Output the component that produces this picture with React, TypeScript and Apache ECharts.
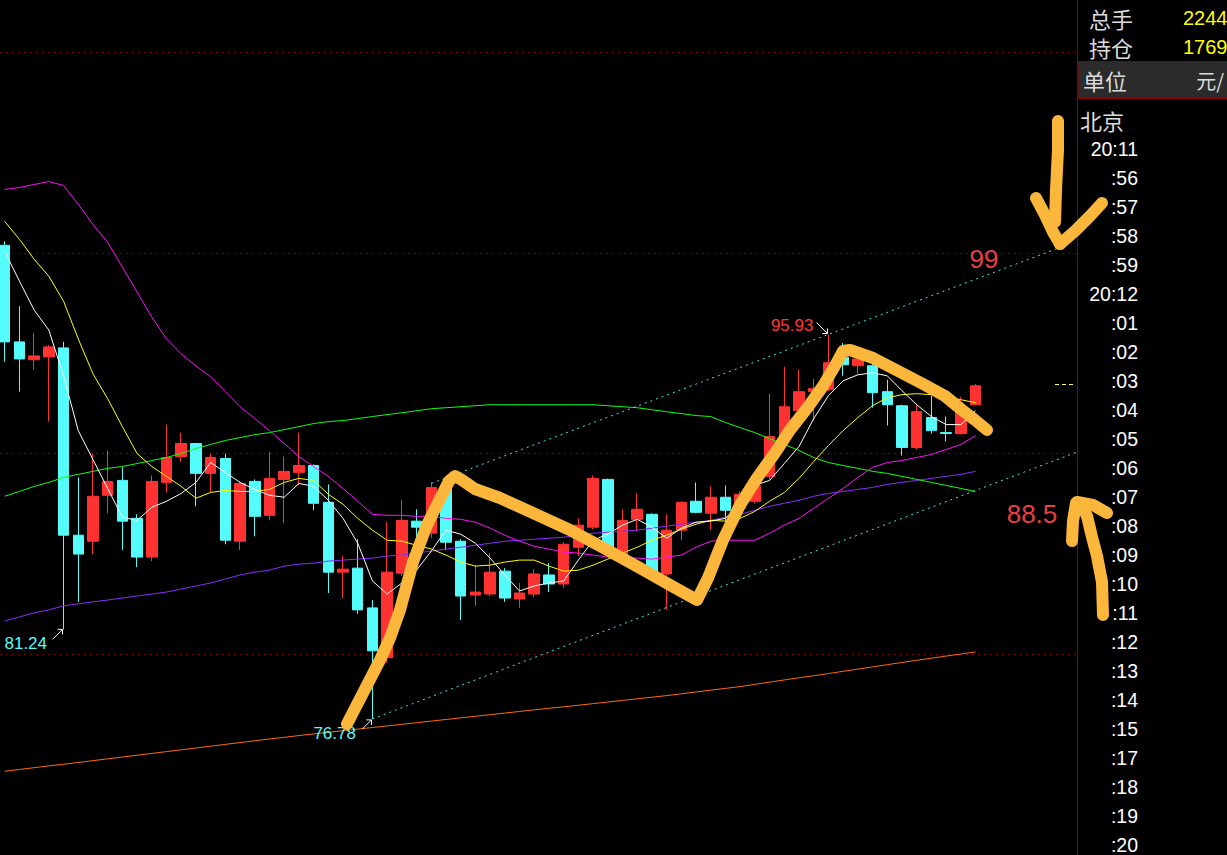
import React, { useEffect, useRef } from "react";
import * as echarts from "echarts";

// [open, close, low, high] for each bar slot 0..66
const candles: number[][] = [
  [100.37, 95.56, 94.57, 100.57],
  [95.56, 94.71, 93.08, 97.34],
  [94.67, 94.86, 94.17, 96.0],
  [94.81, 95.31, 91.59, 95.41],
  [95.26, 85.93, 81.24, 95.56],
  [85.93, 84.99, 82.61, 88.81],
  [85.63, 87.87, 84.99, 90.0],
  [87.92, 88.61, 87.02, 90.15],
  [88.66, 86.63, 85.19, 89.31],
  [86.77, 84.84, 84.34, 86.97],
  [84.84, 88.61, 84.64, 88.91],
  [88.56, 89.8, 88.06, 91.44],
  [89.85, 90.5, 89.6, 91.04],
  [90.5, 89.01, 87.37, 90.5],
  [89.01, 89.8, 88.06, 90.0],
  [89.75, 85.68, 85.48, 90.0],
  [85.63, 88.51, 85.19, 88.6],
  [88.61, 86.87, 85.88, 88.71],
  [86.92, 88.76, 86.67, 90.1],
  [88.71, 89.11, 86.53, 89.85],
  [89.06, 89.4, 88.41, 91.04],
  [89.4, 87.52, 87.17, 89.45],
  [87.57, 84.09, 83.05, 88.46],
  [84.09, 84.24, 82.8, 84.89],
  [84.29, 82.21, 82.01, 85.73],
  [82.31, 80.17, 76.78, 82.7],
  [79.83, 84.09, 79.58, 86.58],
  [84.04, 86.67, 83.9, 87.67],
  [86.63, 86.33, 85.78, 87.22],
  [86.03, 88.31, 85.78, 88.56],
  [88.26, 85.58, 85.19, 88.51],
  [85.63, 82.9, 81.71, 85.73],
  [82.95, 83.1, 82.41, 84.44],
  [83.0, 84.09, 82.9, 85.04],
  [84.14, 82.8, 82.61, 84.29],
  [82.75, 83.05, 82.31, 83.55],
  [83.0, 84.0, 82.85, 84.24],
  [83.95, 83.5, 83.1, 84.54],
  [83.5, 85.48, 83.3, 85.58],
  [85.33, 86.43, 84.89, 86.77],
  [86.33, 88.76, 86.23, 88.91],
  [88.71, 85.04, 84.9, 88.75],
  [84.94, 86.67, 84.8, 87.22],
  [86.72, 87.22, 86.13, 88.01],
  [86.97, 84.04, 83.9, 87.02],
  [84.0, 86.18, 82.21, 86.97],
  [86.18, 87.57, 85.68, 87.62],
  [87.62, 87.07, 87.02, 88.56],
  [87.02, 87.82, 86.18, 88.36],
  [87.82, 87.17, 86.63, 88.41],
  [87.27, 87.97, 87.17, 88.11],
  [87.62, 88.41, 87.5, 88.61],
  [88.86, 90.84, 88.7, 92.98],
  [90.79, 92.33, 90.6, 94.32],
  [92.13, 93.08, 91.89, 94.17],
  [93.08, 93.23, 91.64, 93.72],
  [93.18, 94.52, 93.1, 95.93],
  [94.8, 94.42, 93.87, 95.5],
  [94.37, 94.71, 93.97, 94.9],
  [94.37, 93.03, 92.28, 94.45],
  [93.08, 92.43, 91.39, 93.67],
  [92.38, 90.3, 89.9, 92.43],
  [90.3, 92.08, 90.2, 92.48],
  [91.79, 91.14, 90.99, 92.88],
  [91.04, 91.0, 90.6, 91.84],
  [90.99, 92.13, 90.95, 92.83],
  [92.43, 93.37, 92.4, 93.47],
];

const ma5: number[] = [
  100.07, 98.59, 97.15, 96.15, 93.87, 91.14, 89.7, 88.26, 86.82, 86.67,
  87.32, 87.62, 88.01, 88.56, 89.55, 89.06, 88.56, 88.21, 87.92, 87.82,
  88.51, 88.36, 87.67, 86.77, 85.53, 83.65, 83.0, 83.55, 84.19, 85.14,
  86.18, 85.98, 85.53, 84.79, 83.95, 83.15, 83.4, 83.55, 83.65, 84.69,
  85.68, 85.98, 86.43, 86.72, 86.33, 85.78, 86.28, 86.58, 86.63, 86.77,
  87.52, 88.41, 88.66, 89.5, 90.35, 91.74, 92.88, 93.62, 93.92, 94.02,
  93.87, 93.13, 92.43, 91.84, 91.44, 91.44, 92.13,
];

const ma10: number[] = [
  101.56, 100.67, 99.68, 98.83, 97.59, 95.71, 93.97, 92.73, 91.34, 90.0,
  89.35, 88.86, 88.36, 87.77, 88.06, 88.16, 88.11, 88.11, 88.21, 88.56,
  88.76, 88.66, 87.97, 87.47, 86.77, 86.18, 85.68, 85.63, 85.43, 85.24,
  84.94, 84.59, 84.39, 84.44, 84.59, 84.69, 84.69, 84.39, 84.14, 84.19,
  84.44, 84.74, 85.04, 85.33, 85.68, 85.93, 86.23, 86.48, 86.67, 86.63,
  86.77, 87.12, 87.62, 88.06, 88.76, 89.6, 90.4, 91.14, 91.79, 92.38,
  92.78, 92.93, 92.98, 92.93, 92.83, 92.68, 92.53,
];

const ma20: number[] = [
  103.15, 103.25, 103.4, 103.55, 103.35, 102.41, 101.41, 100.52, 99.28, 98.04,
  96.8, 95.71, 94.96, 94.37, 93.82, 93.08, 92.33, 91.74, 91.14, 90.5,
  89.85, 89.35, 88.86, 88.26, 87.62, 86.97, 86.92, 86.92, 86.87, 86.87,
  86.77, 86.72, 86.58, 86.28, 85.93, 85.63, 85.38, 85.24, 85.09, 85.04,
  84.94, 84.84, 84.79, 84.79, 84.74, 84.84, 84.94, 85.33, 85.63, 85.68,
  85.68, 85.68, 86.03, 86.43, 86.77, 87.27, 87.77, 88.26, 88.81, 89.31,
  89.55, 89.65, 89.8, 89.95, 90.2, 90.45, 90.89,
];

const ma60: number[] = [
  87.87, 88.11, 88.36, 88.56, 88.81, 88.96, 89.11, 89.26, 89.35, 89.5,
  89.65, 89.8, 90.0, 90.25, 90.45, 90.65, 90.79, 90.94, 91.04, 91.19,
  91.34, 91.49, 91.59, 91.64, 91.74, 91.84, 91.94, 92.03, 92.13, 92.23,
  92.28, 92.33, 92.38, 92.43, 92.43, 92.43, 92.43, 92.43, 92.43, 92.43,
  92.43, 92.38, 92.33, 92.28, 92.18, 92.08, 91.99, 91.89, 91.84, 91.54,
  91.29, 91.04, 90.74, 90.45, 90.15, 89.8, 89.55, 89.4, 89.26, 89.11,
  89.01, 88.86, 88.71, 88.56, 88.41, 88.26, 88.11,
];

const ma120: number[] = [
  81.66, 81.86, 82.06, 82.21, 82.41, 82.51, 82.61, 82.7, 82.8, 82.9,
  83.0, 83.1, 83.25, 83.4, 83.55, 83.75, 83.95, 84.09, 84.19, 84.39,
  84.49, 84.54, 84.64, 84.69, 84.74, 84.79, 84.89, 84.94, 85.04, 85.14,
  85.24, 85.33, 85.43, 85.53, 85.63, 85.68, 85.73, 85.78, 85.83, 85.93,
  86.03, 86.08, 86.13, 86.18, 86.28, 86.38, 86.48, 86.58, 86.67, 86.82,
  86.97, 87.17, 87.37, 87.52, 87.67, 87.87, 88.01, 88.11, 88.21, 88.31,
  88.46, 88.56, 88.66, 88.76, 88.86, 88.96, 89.11,
];

const ma250: number[] = [
  74.17, 74.26, 74.35, 74.44, 74.52, 74.61, 74.7, 74.79, 74.88, 74.97,
  75.06, 75.15, 75.24, 75.33, 75.42, 75.51, 75.6, 75.69, 75.78, 75.86,
  75.95, 76.03, 76.11, 76.19, 76.27, 76.35, 76.43, 76.51, 76.59, 76.67,
  76.75, 76.83, 76.91, 76.99, 77.07, 77.15, 77.23, 77.31, 77.38, 77.46,
  77.54, 77.62, 77.7, 77.78, 77.86, 77.94, 78.03, 78.12, 78.21, 78.3,
  78.39, 78.5, 78.61, 78.72, 78.83, 78.93, 79.04, 79.15, 79.26, 79.37,
  79.48, 79.59, 79.7, 79.8, 79.91, 80.01, 80.12,
];

// channel lines: [slot index, price]
const upperChannel: number[][] = [[29, 88.51], [72, 100.33]];
const lowerChannel: number[][] = [[25, 76.78], [73, 90.1]];

// annotated extremes: [slot index, price]
const highMark: number[] = [56, 95.93];
const lowMarkA: number[] = [4, 81.24];
const lowMarkB: number[] = [25, 76.78];

const timeLabels: string[] = [
  "20:11", ":56", ":57", ":58", ":59", "20:12", ":01", ":02", ":03", ":04", ":05", ":06", ":07",
  ":08", ":09", ":10", ":11", ":12", ":13", ":14", ":15", ":17", ":18", ":19", ":20",
];

const infoLabels: string[] = ["总手", "持仓"];
const infoValues: string[] = ["2244", "1769"];

const LAT = '"Liberation Sans", Arial, sans-serif';
const CJK = '"Noto Sans CJK SC", sans-serif';
const RED = "#ff3232";
const CYAN = "#54fcfc";
const ORANGE = "#fbb73c";

// hand-drawn strokes (overlay drawing in pixel space)
const strokeMain: number[][] = [
  [347, 724], [363, 693], [380, 660], [390, 638], [400, 610], [413, 562], [427, 525], [440, 499],
  [449, 481], [455, 476], [462, 480], [475, 489], [500, 498], [533, 513], [570, 530], [600, 546],
  [640, 568], [670, 585], [697, 600], [708, 578], [723, 540], [740, 505], [757, 478], [775, 453],
  [790, 430], [808, 407], [823, 386], [836, 364], [843, 351], [850, 350], [873, 358], [900, 372],
  [923, 384], [945, 396], [962, 410], [975, 420], [987, 430],
];
const strokeDownStem: number[][] = [[1058, 121], [1058, 150], [1056, 190], [1055, 222]];
const strokeDownLeft: number[][] = [[1036, 198], [1045, 215], [1053, 232], [1060, 244]];
const strokeDownRight: number[][] = [[1060, 244], [1075, 231], [1090, 216], [1102, 203]];
const strokeUpStem: number[][] = [[1103, 615], [1102, 582], [1097, 556], [1092, 537], [1087, 516], [1080, 503]];
const strokeUpLeft: number[][] = [[1072, 541], [1073, 521], [1076, 503]];
const strokeUpRight: number[][] = [[1077, 502], [1093, 505], [1107, 513]];

export default function App() {
  const ref = useRef<HTMLDivElement>(null);

  useEffect(() => {
    const el = ref.current;
    if (!el) return;
    const chart = echarts.init(el, null, { renderer: "svg" });

    const indexed = (arr: number[]) => arr.map((v, i) => [i, v]);
    const lineSeries = (data: any[], color: string, extra: any = {}) => ({
      type: "line",
      data,
      showSymbol: false,
      symbol: "none",
      lineStyle: { color, width: 1 },
      silent: true,
      ...extra,
    });

    const option: any = {
      animation: false,
      backgroundColor: "#000000",
      grid: { left: 0, top: 52, width: 1088.5, height: 806 },
      xAxis: {
        type: "value",
        min: -0.32,
        max: 73.68,
        axisLine: { show: false },
        axisTick: { show: false },
        axisLabel: { show: false },
        splitLine: { show: false },
      },
      yAxis: {
        type: "value",
        min: 70,
        max: 110,
        interval: 10,
        axisLine: { show: false },
        axisTick: { show: false },
        axisLabel: { show: false },
        splitLine: { show: true, lineStyle: { color: "#7a0000", type: [2, 4], width: 1 } },
      },
      series: [
        {
          type: "candlestick",
          data: candles.map((c, i) => [i, c[0], c[1], c[2], c[3]]),
          barWidth: 11,
          itemStyle: {
            color: RED,
            color0: CYAN,
            borderColor: RED,
            borderColor0: CYAN,
            borderWidth: 1,
          },
          silent: true,
        },
        lineSeries(indexed(ma250), "#ff6a10"),
        lineSeries(indexed(ma120), "#8a2cff"),
        lineSeries(indexed(ma60), "#10ff10"),
        lineSeries(indexed(ma20), "#ff10ff"),
        lineSeries(indexed(ma10), "#ffff00"),
        lineSeries(indexed(ma5), "#ffffff"),
        lineSeries(upperChannel, "#40eaea", { lineStyle: { color: "#40eaea", width: 1, type: [2, 4] } }),
        lineSeries(lowerChannel, "#40eaea", { lineStyle: { color: "#40eaea", width: 1, type: [2, 4] } }),
      ],
    };
    chart.setOption(option);

    const toPx = (p: number[]) => chart.convertToPixel({ gridIndex: 0 }, p) as number[];
    const [hx, hy] = toPx(highMark);
    const [ax, ay] = toPx(lowMarkA);
    const [bx, by] = toPx(lowMarkB);

    const g: any[] = [];
    const txt = (text: string, x: number, y: number, fill: string, size: number, family: string, align = "left", z = 120) =>
      g.push({
        type: "text",
        z,
        silent: true,
        style: { text, x, y, fill, fontSize: size, fontFamily: family, align, verticalAlign: "middle" },
      });
    const ln = (x1: number, y1: number, x2: number, y2: number, stroke: string, z = 120, dash?: number[]) =>
      g.push({
        type: "line",
        z,
        silent: true,
        shape: { x1, y1, x2, y2 },
        style: { stroke, lineWidth: 1, lineDash: dash },
      });

    // extreme labels with small white arrows
    txt("95.93", hx - 15, hy - 9, "#ff3a3a", 17, LAT, "right");
    ln(hx - 12, hy - 12, hx - 1, hy - 1, "#ffffff");
    ln(hx - 1, hy - 1, hx - 6, hy - 1, "#ffffff");
    ln(hx - 1, hy - 1, hx - 1, hy - 6, "#ffffff");

    txt("81.24", ax - 16.5, ay + 14, CYAN, 17, LAT, "right");
    ln(ax - 11, ay + 10, ax - 1, ay, "#ffffff");
    ln(ax - 1, ay, ax - 6, ay, "#ffffff");
    ln(ax - 1, ay, ax - 1, ay + 5, "#ffffff");

    txt("76.78", bx - 16.5, by + 15, CYAN, 17, LAT, "right");
    ln(bx - 10, by + 10, bx - 1, by + 1, "#ffffff");
    ln(bx - 1, by + 1, bx - 6, by + 1, "#ffffff");
    ln(bx - 1, by + 1, bx - 1, by + 6, "#ffffff");

    // typed targets
    txt("99", 984, 259, "#e84040", 26, LAT, "center");
    txt("88.5", 1032, 514, "#e84040", 26, LAT, "center");

    // current price marker
    ln(1055, 384.5, 1076, 384.5, "#ffff66", 120, [4, 3]);

    // right panel
    g.push({ type: "rect", z: 100, silent: true, shape: { x: 1077, y: 0, width: 150, height: 855 }, style: { fill: "#000000" } });
    g.push({ type: "rect", z: 105, silent: true, shape: { x: 1078, y: 61.5, width: 150, height: 37 }, style: { fill: "#2b2b2b", stroke: "#8b0000", lineWidth: 1 } });
    ln(1077.5, 0, 1077.5, 855, "#8b0000", 110);
    infoLabels.forEach((t, i) => {
      txt(t, 1089, 18 + i * 29, "#dcdcdc", 22, CJK, "left");
      txt(infoValues[i], 1183, 18 + i * 29, "#ffff00", 20, LAT, "left");
    });
    txt("单位", 1083, 80, "#dcdcdc", 22, CJK, "left");
    txt("元/", 1224, 80, "#dcdcdc", 20, CJK, "right");
    txt("北京", 1080, 120, "#dcdcdc", 22, CJK, "left");
    timeLabels.forEach((t, i) => {
      txt(t, 1138, 149 + i * 29, "#ffffff", 19.5, LAT, "right");
    });

    // hand-drawn orange strokes
    const strokes = [strokeMain, strokeDownStem, strokeDownLeft, strokeDownRight, strokeUpStem, strokeUpLeft, strokeUpRight];
    strokes.forEach((pts) =>
      g.push({
        type: "polyline",
        z: 200,
        silent: true,
        shape: { points: pts },
        style: { stroke: ORANGE, lineWidth: 12, lineCap: "round", lineJoin: "round", fill: null },
      })
    );

    chart.setOption({ graphic: g });

    return () => {
      chart.dispose();
    };
  }, []);

  return (
    <div
      ref={ref}
      style={{ position: "fixed", left: 0, top: 0, width: 1227, height: 855, background: "#000000" }}
    />
  );
}
